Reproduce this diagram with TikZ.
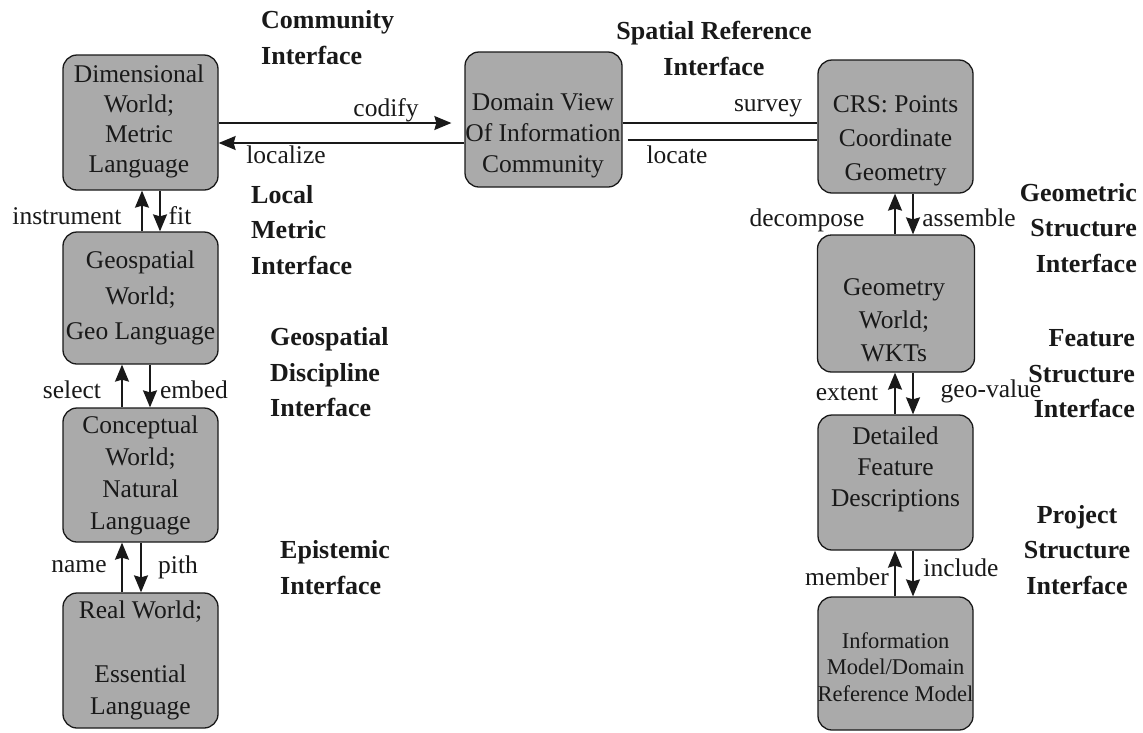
\documentclass[tikz,border=0pt]{standalone}
\usepackage{fontspec}
\setmainfont{Liberation Serif}
\usetikzlibrary{arrows.meta}
\definecolor{boxfill}{RGB}{170,170,170}
\definecolor{ink}{RGB}{25,25,25}
\begin{document}
\begin{tikzpicture}[x=1pt,y=-1pt,
 box/.style={draw=ink, line width=1.3pt, fill=boxfill, rounded corners=14pt, inner sep=0pt, minimum width=155pt},
 btxt/.style={align=center, text=ink, inner sep=0pt},
 elab/.style={font=\fontsize{25.5}{30}\selectfont, text=ink, inner sep=0pt},
 iface/.style={font=\fontsize{26}{35.5}\selectfont\bfseries, text=ink, inner sep=0pt},
 arr/.style={draw=ink, line width=1.4pt, -{Stealth[length=17pt,width=14pt,inset=2pt,fill=ink]}},
 ln/.style={draw=ink, line width=1.4pt}
]
\path[use as bounding box, fill=white] (0,0) rectangle (1143,732);

% boxes
\node[box, minimum height=135pt] (dim) at (140.5,122.5) {};
\node[box, minimum height=132pt] (geo) at (140.5,298) {};
\node[box, minimum height=134pt] (conc) at (140.5,475) {};
\node[box, minimum height=135pt] (real) at (140.5,660.5) {};
\node[box, minimum width=157pt, minimum height=135pt] (dom) at (543.5,119.5) {};
\node[box, minimum height=133pt] (crs) at (895.5,126.5) {};
\node[box, minimum width=157pt, minimum height=137pt] (geom) at (896,303.5) {};
\node[box, minimum height=135pt] (det) at (895.5,482.5) {};
\node[box, minimum height=133pt] (info) at (895.5,663.5) {};

% box texts
\node[btxt, font=\fontsize{25.5}{30}\selectfont] (dimT) at (139,121) {Dimensional\\World;\\Metric\\Language};
\node[btxt, font=\fontsize{25.5}{35.5}\selectfont] (geoT) at (140.5,298) {Geospatial\\World;\\Geo Language};
\node[btxt, font=\fontsize{25.5}{32}\selectfont] (concT) at (140.5,475) {Conceptual\\World;\\Natural\\Language};
\node[btxt, font=\fontsize{25.5}{32}\selectfont] (realT) at (140.5,660) {Real World;\\\mbox{}\\Essential\\Language};
\node[btxt, font=\fontsize{25.5}{31}\selectfont] (domT) at (543,136) {Domain View\\Of Information\\Community};
\node[btxt, font=\fontsize{25.5}{34}\selectfont] (crsT) at (895.5,141) {CRS: Points\\Coordinate\\Geometry};
\node[btxt, font=\fontsize{25.5}{33}\selectfont] (geomT) at (894,320) {Geometry\\World;\\WKTs};
\node[btxt, font=\fontsize{25.5}{31}\selectfont] (detT) at (895.5,469) {Detailed\\Feature\\Descriptions};
\node[btxt, font=\fontsize{22.5}{26.5}\selectfont] (infoT) at (895.5,667) {Information\\Model/Domain\\Reference Model};

% horizontal connectors
\draw[arr, shorten >=13pt] (dim.east |- 0,123) -- (dom.west |- 0,123);
\draw[arr] (dom.west |- 0,143) -- (dim.east |- 0,143);
\draw[ln] (dom.east |- 0,123) -- (crs.west |- 0,123);
\draw[ln, shorten <=5pt] (dom.east |- 0,140) -- (crs.west |- 0,140);

% vertical connectors, left column
\draw[arr] (geo.north -| 142,0) -- (dim.south -| 142,0);
\draw[arr] (dim.south -| 160,0) -- (geo.north -| 160,0);
\draw[arr] (conc.north -| 122,0) -- (geo.south -| 122,0);
\draw[arr] (geo.south -| 150,0) -- (conc.north -| 150,0);
\draw[arr] (real.north -| 122,0) -- (conc.south -| 122,0);
\draw[arr] (conc.south -| 141,0) -- (real.north -| 141,0);

% vertical connectors, right column
\draw[arr] (geom.north -| 895,0) -- (crs.south -| 895,0);
\draw[arr] (crs.south -| 913,0) -- (geom.north -| 913,0);
\draw[arr] (det.north -| 895,0) -- (geom.south -| 895,0);
\draw[arr] (geom.south -| 913,0) -- (det.north -| 913,0);
\draw[arr] (info.north -| 895,0) -- (det.south -| 895,0);
\draw[arr] (det.south -| 913,0) -- (info.north -| 913,0);

% connector labels
\node[elab] (lcodify) at (386,110) {codify};
\node[elab] (llocalize) at (286,155) {localize};
\node[elab] (lsurvey) at (768,108) {survey};
\node[elab] (llocate) at (677,155) {locate};
\node[elab] (linstr) at (67,216) {instrument};
\node[elab] (lfit) at (180,216) {fit};
\node[elab] (lselect) at (72,390) {select};
\node[elab] (lembed) at (194,390) {embed};
\node[elab] (lname) at (79,567) {name};
\node[elab] (lpith) at (178,567) {pith};
\node[elab] (ldecomp) at (807,220) {decompose};
\node[elab] (lassemble) at (969,218) {assemble};
\node[elab] (lextent) at (847,393) {extent};
\node[elab] (lgeovalue) at (991,391) {geo-value};
\node[elab] (lmember) at (847,577) {member};
\node[elab] (linclude) at (961,568) {include};

% interface labels
\node[iface, align=left, anchor=west] (icomm) at (261,37.5) {Community\\Interface};
\node[iface, align=center] (ispat) at (714,48.5) {Spatial Reference\\Interface};
\node[iface, align=left, anchor=west] (ilocal) at (251,230) {Local\\Metric\\Interface};
\node[iface, align=left, anchor=west] (igeosp) at (270,372.5) {Geospatial\\Discipline\\Interface};
\node[iface, align=left, anchor=west] (iepis) at (280,567.5) {Epistemic\\Interface};
\node[iface, align=right, anchor=east] (igeom) at (1137,228) {Geometric\\Structure\\Interface};
\node[iface, align=right, anchor=east] (ifeat) at (1135,374) {Feature\\Structure\\Interface};
\node[iface, align=center] (iproj) at (1077,550) {Project\\Structure\\Interface};
\end{tikzpicture}
\end{document}
